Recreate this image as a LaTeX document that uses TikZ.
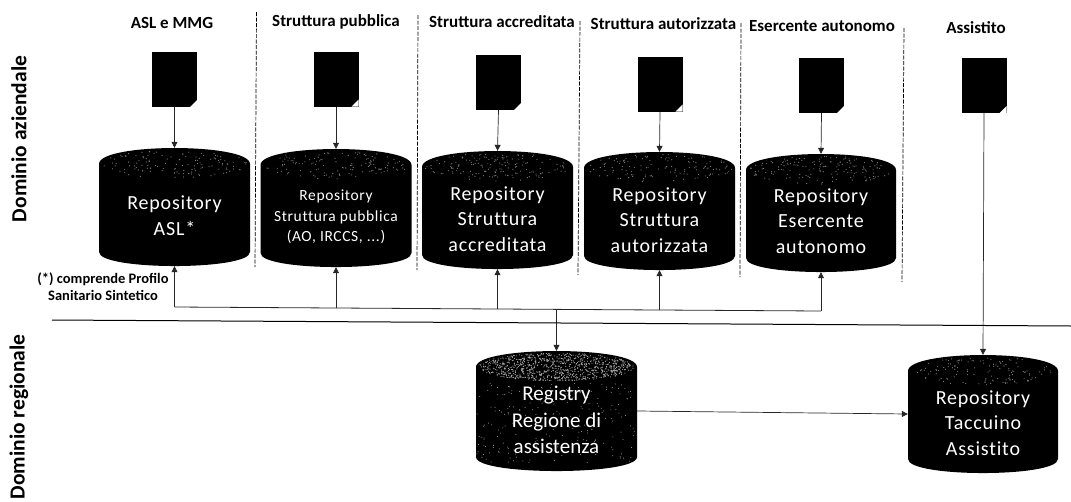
\documentclass[tikz,border=0pt]{standalone}
\usepackage{fontspec}
\setmainfont{Carlito}
\newfontfamily\cylf[LetterSpace=4,Ligatures=NoCommon]{Carlito}
\usetikzlibrary{arrows.meta}
% drawn inside a node of width #1, height #2: black cylinder, #3 specks in the top, #4 in the body
\newcommand\cylbody[5]{%
  \begin{scope}[shift={(path picture bounding box.center)}]
    \pgfmathsetmacro\hw{#1/2}\pgfmathsetmacro\hh{#2/2}
    \pgfmathsetmacro\yt{-\hh+16}\pgfmathsetmacro\yb{\hh-14}
    \pgfmathsetmacro\ctop{\yt-21.3}\pgfmathsetmacro\cbot{\yb+18.7}
    \fill[black] (-\hw,\yt) .. controls (-\hw,\ctop) and (\hw,\ctop) .. (\hw,\yt) -- (\hw,\yb)
       .. controls (\hw,\cbot) and (-\hw,\cbot) .. (-\hw,\yb) -- cycle;
    \foreach \i in {1,...,#3}{%
      \pgfmathsetmacro\myang{rnd*360}\pgfmathsetmacro\myrad{sqrt(rnd)}%
      \fill[#5] ({\myrad*(\hw-3)*cos(\myang)},{\yt+\myrad*14*sin(\myang)}) circle (.6pt);
    }
    \ifnum#4>0
    \foreach \i in {1,...,#4}{%
      \pgfmathsetmacro\px{(2*rnd-1)*(\hw-1)}\pgfmathsetmacro\py{\yt+16+rnd*(\yb-\yt-10)}%
      \fill[#5] (\px,\py) circle (.5pt);
    }
    \fi
  \end{scope}}
\tikzset{
  x=1pt,y=-1pt,
  cylnode/.style n args={5}{inner sep=0pt,minimum width=#1pt,minimum height=#2pt,
    path picture={\cylbody{#1}{#2}{#3}{#4}{#5}}},
  cyltxt/.style={text=white,align=center,inner sep=0pt},
  big/.style={cyltxt,font=\cylf\fontsize{20}{25.7}\selectfont},
  docbox/.style={fill=black,inner sep=0pt,minimum width=45pt,minimum height=55pt,
    path picture={\fill[white] ([xshift=-7pt]path picture bounding box.south east) -- (path picture bounding box.south east) -- ([yshift=7pt]path picture bounding box.south east) -- cycle;}},
  headlab/.style={font=\bfseries\fontsize{17}{20}\selectfont,inner sep=0pt},
  domlab/.style={font=\bfseries\fontsize{21.5}{24}\selectfont,inner sep=0pt,rotate=90},
  arr/.style={draw=black!85,line width=.7pt,-{Triangle[length=6pt,width=6pt]}},
  busline/.style={draw=black!85,line width=.8pt},
  sepline/.style={draw=black,line width=.7pt,dash pattern=on 4pt off 1.5pt},
}
\pgfmathsetseed{42}
\begin{document}
\begin{tikzpicture}
\useasboundingbox (0,0) rectangle (1071,501);
% headers
\node[headlab] (h1) at (172,23) {ASL e MMG};
\node[headlab] (h2) at (336,22) {Struttura pubblica};
\node[headlab] (h3) at (502,22) {Struttura accreditata};
\node[headlab] (h4) at (663.5,24) {Struttura autorizzata};
\node[headlab] (h5) at (822,26) {Esercente autonomo};
\node[headlab] (h6) at (976,28) {Assistito};
\node[domlab] (dz) at (19,139) {Dominio aziendale};
\node[domlab] (dr) at (19,417) {Dominio regionale};
% separators
\coordinate (s1a) at (256.5,12); \coordinate (s1b) at (255,267);
\coordinate (s2a) at (418,15);   \coordinate (s2b) at (417,270);
\coordinate (s3a) at (580,21);   \coordinate (s3b) at (578,275);
\coordinate (s4a) at (741,23);   \coordinate (s4b) at (740,277);
\coordinate (s5a) at (904,28);   \coordinate (s5b) at (902,282);
\foreach \k in {1,...,5} {\draw[sepline] (s\k a) -- (s\k b);}
% documents
\node[docbox] (d1) at (174.5,79.5) {};
\node[docbox] (d2) at (336,79) {};
\node[docbox] (d3) at (498.5,82.5) {};
\node[docbox] (d4) at (660,84) {};
\node[docbox] (d5) at (821.5,85.5) {};
\node[docbox] (d6) at (984,85.5) {};
% cylinders
\node[cylnode={151}{118}{130}{0}{black!50}] (c1) at (174.5,207) {};
\node[cylnode={151}{118}{130}{0}{black!50}] (c2) at (336,208) {};
\node[cylnode={151}{118}{160}{0}{black!50}] (c3) at (497.5,210) {};
\node[cylnode={151}{118}{130}{0}{black!50}] (c4) at (659.5,211) {};
\node[cylnode={150}{118}{160}{0}{black!50}] (c5) at (821,213) {};
\node[cylnode={161}{120}{900}{220}{black!35}] (r) at (556.5,411) {};
\node[cylnode={150}{118}{130}{0}{black!50}] (t) at (983,414) {};
% cylinder texts
\node[big,yshift=-9pt] (c1t) at (c1) {Repository\\ASL*};
\node[cyltxt,yshift=-9pt,font=\cylf\fontsize{15.5}{20.3}\selectfont] (c2t) at (c2) {Repository\\Struttura pubblica\\(AO, IRCCS, ...)};
\node[big,yshift=-9pt] (c3t) at (c3) {Repository\\Struttura\\accreditata};
\node[big,yshift=-9pt] (c4t) at (c4) {Repository\\Struttura\\autorizzata};
\node[big,yshift=-8pt] (c5t) at (c5) {Repository\\Esercente\\autonomo};
\node[cyltxt,yshift=-9pt,font=\fontsize{21}{26.3}\selectfont] (rt) at (r) {Registry\\Regione di\\assistenza};
\node[big,yshift=-9pt] (tt) at (t) {Repository\\Taccuino\\Assistito};
% footnote
\node[font=\bfseries\fontsize{14.5}{17}\selectfont,align=center,inner sep=0pt] (note) at (103,286.5) {(*) comprende Profilo\\Sanitario Sintetico};
% doc to cylinder
\foreach \k in {1,...,5} {\draw[arr] (d\k.south) -- (c\k.north);}
\draw[arr] (d6.south) -- (t.north);
% bus
\coordinate (b1) at (174.5,307);
\coordinate (b2) at (336,308);
\coordinate (b3) at (497.5,309);
\coordinate (b0) at (556.5,309.5);
\coordinate (b4) at (659.5,310);
\coordinate (b5) at (821,311);
\draw[busline] (b1) -- (b5);
\foreach \k in {1,...,5} {\draw[arr] (b\k) -- (c\k.south);}
\draw[arr] (b0) -- (r.north);
\draw[arr] (r.east) -- (t.west);
% domain divider
\coordinate (la) at (52,320); \coordinate (lb) at (1071,326);
\draw[black,line width=1pt] (la) -- (lb);
\end{tikzpicture}
\end{document}
